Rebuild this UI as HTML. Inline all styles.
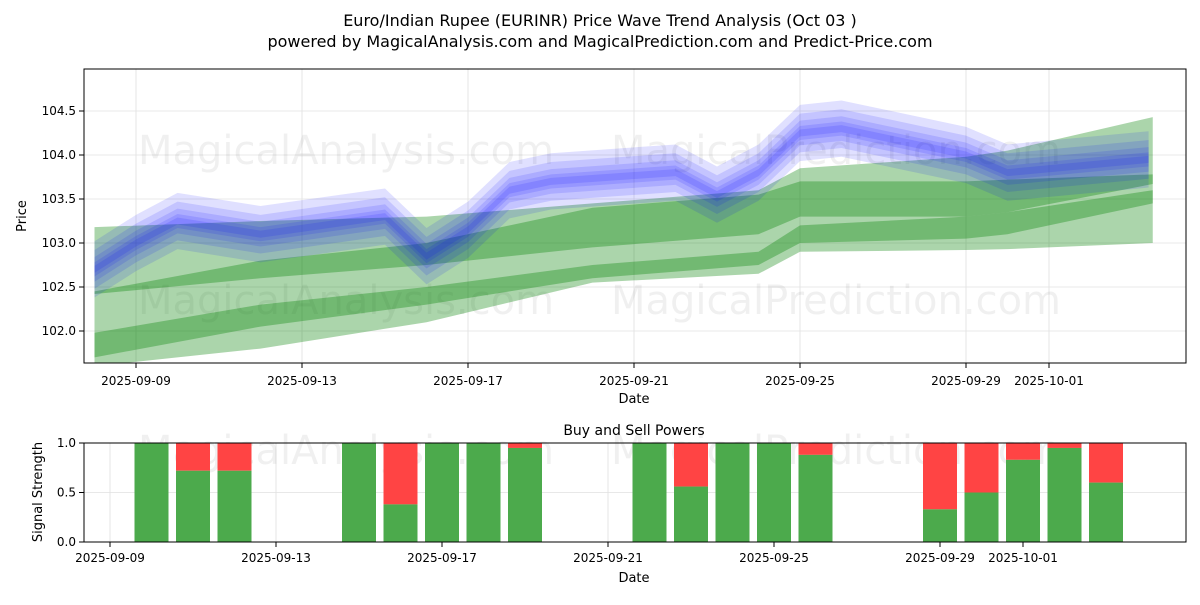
<!DOCTYPE html>
<html><head><meta charset="utf-8"><style>
body{margin:0;background:#fff;font-family:"Liberation Sans","DejaVu Sans",sans-serif}
svg text{font-family:"DejaVu Sans","Liberation Sans",sans-serif}
</style></head><body>
<svg id="c" width="1200" height="600" viewBox="0 0 1200 600" xmlns="http://www.w3.org/2000/svg">
<text x="600" y="26" text-anchor="middle" font-size="16">Euro/Indian Rupee (EURINR) Price Wave Trend Analysis (Oct 03 )</text>
<text x="600" y="47" text-anchor="middle" font-size="16">powered by MagicalAnalysis.com and MagicalPrediction.com and Predict-Price.com</text>
<defs><clipPath id="cp1"><rect x="84" y="69" width="1102" height="294"/></clipPath><clipPath id="cp2"><rect x="84" y="443" width="1102" height="99"/></clipPath></defs>
<g id="topG"></g>
<g id="botG"></g>
</svg>
<script>
const tickDays=[0,4,8,12,16,20,22];
const tickLabels=["2025-09-09","2025-09-13","2025-09-17","2025-09-21","2025-09-25","2025-09-29","2025-10-01"];
const yTicks=[102.0,102.5,103.0,103.5,104.0,104.5];
const bandDays=[-1,3,7,11,15,16,20,21,24.5];
const bandAUp=[103.18,103.25,103.3,103.45,103.6,103.85,103.98,104.05,104.43];
const bandALo=[102.42,102.6,102.75,102.95,103.1,103.3,103.3,103.35,103.67];
const bandBUp=[102.45,102.8,103.0,103.4,103.55,103.7,103.7,103.72,103.78];
const bandBLo=[101.7,102.05,102.3,102.6,102.75,103.0,103.05,103.1,103.45];
const bandCUp=[101.98,102.3,102.5,102.75,102.9,103.2,103.3,103.35,103.6];
const bandCLo=[101.6,101.8,102.1,102.55,102.65,102.9,102.92,102.93,103.0];
const blueDays=[-1,0,1,3,6,7,8,9,10,13,14,15,16,17,20,21,24.4];
const blueVals=[102.7,103.0,103.25,103.1,103.3,102.85,103.15,103.6,103.7,103.8,103.55,103.8,104.25,104.3,104.0,103.8,103.95];
const blueHalf=[0.32,0.22,0.14,0.08,0.04];
const barDays=[1,2,3,6,7,8,9,10,13,14,15,16,17,20,21,22,23,24];
const buyVals=[1.0,0.72,0.72,1.0,0.38,1.0,1.0,0.95,1.0,0.56,1.0,1.0,0.88,0.33,0.5,0.83,0.95,0.6];
const NS="http://www.w3.org/2000/svg";
const xT=d=>136+d*41.5, yT=v=>155-(v-104)*88;
const xB=d=>110+d*41.5, yB=v=>542-v*99;
function mk(p,tag,at){const e=document.createElementNS(NS,tag);for(const k in at)e.setAttribute(k,at[k]);p.appendChild(e);return e;}
const topG=document.getElementById('topG'), botG=document.getElementById('botG');
tickDays.forEach((d,i)=>{
 const g=mk(topG,'line',{x1:xT(d),x2:xT(d),y1:69,y2:363,stroke:'#e0e0e0','stroke-width':0.8});
 
 
 mk(topG,'line',{x1:xT(d),x2:xT(d),y1:363,y2:368,stroke:'#000'});
 const t=mk(topG,'text',{x:xT(d),y:385,'text-anchor':'middle','font-size':12});t.textContent=tickLabels[i];
 
 
 const g2=mk(botG,'line',{x1:xB(d),x2:xB(d),y1:443,y2:542,stroke:'#e0e0e0','stroke-width':0.8});
 
 
 mk(botG,'line',{x1:xB(d),x2:xB(d),y1:542,y2:547,stroke:'#000'});
 const t2=mk(botG,'text',{x:xB(d),y:562,'text-anchor':'middle','font-size':12});t2.textContent=tickLabels[i];
 
 
});
yTicks.forEach(v=>{
 mk(topG,'line',{x1:84,x2:1186,y1:yT(v),y2:yT(v),stroke:'#e0e0e0','stroke-width':0.8});
 mk(topG,'line',{x1:79,x2:84,y1:yT(v),y2:yT(v),stroke:'#000'});
 const t=mk(topG,'text',{x:76,y:yT(v)+4,'text-anchor':'end','font-size':12});t.textContent=v.toFixed(1);
 
 
});
[0,0.5,1].forEach(v=>{
 mk(botG,'line',{x1:84,x2:1186,y1:yB(v),y2:yB(v),stroke:'#e0e0e0','stroke-width':0.8});
 mk(botG,'line',{x1:79,x2:84,y1:yB(v),y2:yB(v),stroke:'#000'});
 const t=mk(botG,'text',{x:76,y:yB(v)+4,'text-anchor':'end','font-size':12});t.textContent=v.toFixed(1);
 
 
});
[[346,150,topG],[836,150,topG],[346,300,topG],[836,300,topG],[346,450,botG],[836,450,botG]].forEach(([x,y,p])=>{
 const t=mk(p,'text',{x:x,y:y+14,'text-anchor':'middle','font-size':40,fill:'#000','fill-opacity':0.06});
 t.textContent=x<600?'MagicalAnalysis.com':'MagicalPrediction.com';
 
 
});
const pg=mk(topG,'g',{'clip-path':'url(#cp1)'});
function band(up,lo,name){
 const pts=bandDays.map((d,i)=>xT(d)+','+yT(up[i])).concat(bandDays.map((d,i)=>xT(d)+','+yT(lo[i])).reverse());
 const p=mk(pg,'polygon',{points:pts.join(' '),fill:'#008000','fill-opacity':0.33});
 
 
}
band(bandAUp,bandALo,'green-band-upper');
band(bandBUp,bandBLo,'green-band-main');
band(bandCUp,bandCLo,'green-band-lower');
blueHalf.forEach(h=>{
 const pts=blueDays.map((d,i)=>xT(d)+','+yT(blueVals[i]+h)).concat(blueDays.map((d,i)=>xT(d)+','+yT(blueVals[i]-h)).reverse());
 const p=mk(pg,'polygon',{points:pts.join(' '),fill:'#0000ff','fill-opacity':0.12});
 
 
});
mk(topG,'rect',{x:84,y:69,width:1102,height:294,fill:'none',stroke:'#000','stroke-width':1});
let t=mk(topG,'text',{x:634,y:403,'text-anchor':'middle','font-size':13});t.textContent='Date';


t=mk(topG,'text',{x:26,y:216,'text-anchor':'middle','font-size':13,transform:'rotate(-90 26 216)'});t.textContent='Price';


const bg=mk(botG,'g',{'clip-path':'url(#cp2)'});
barDays.forEach((d,i)=>{
 const r=mk(bg,'rect',{x:xB(d)-17,y:yB(1),width:34,height:yB(buyVals[i])-yB(1),fill:'#ff4444'});
 
 
 const g=mk(bg,'rect',{x:xB(d)-17,y:yB(buyVals[i]),width:34,height:yB(0)-yB(buyVals[i]),fill:'#4caa4c'});
 
 
});
mk(botG,'rect',{x:84,y:443,width:1102,height:99,fill:'none',stroke:'#000','stroke-width':1});
t=mk(botG,'text',{x:634,y:435,'text-anchor':'middle','font-size':14});t.textContent='Buy and Sell Powers';


t=mk(botG,'text',{x:634,y:582,'text-anchor':'middle','font-size':13});t.textContent='Date';


t=mk(botG,'text',{x:42,y:492,'text-anchor':'middle','font-size':13,transform:'rotate(-90 42 492)'});t.textContent='Signal Strength';


</script>
</body></html>
